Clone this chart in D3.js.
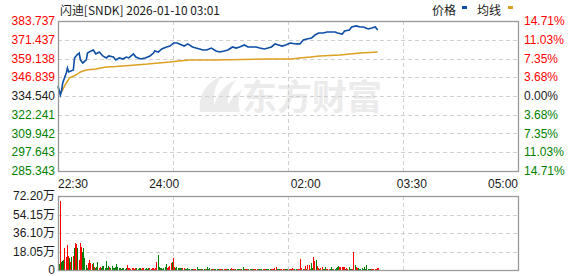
<!DOCTYPE html>
<html>
<head>
<meta charset="utf-8" />
<title>闪迪 SNDK</title>
<style>
body { margin: 0; background: #fff; }
svg text { font-family: Arial, "Liberation Sans", "Noto Sans CJK SC", sans-serif; font-size: 12px; }
</style>
</head>
<body>
<div id="chart"></div>
<script src="https://d3js.org/d3.v7.min.js"></script>
<script>
(function(d3) {
'use strict';

// minutes after 22:30
var priceMin = [0,2,3,4,7,8,9,13,14,16,18,19,21,24,25,28,30,32,35,38,41,43,47,49,52,55,58,60,64,66,
  70,74,78,81,82,85,88,92,95,98,101,103,107,110,114,117,120,123,126,130,134,137,141,144,148,151,154,158,161,165,
  168,171,175,178,181,184,187,190,193,197,202,205,208,211,215,218,221,225,228,232,235,237,241,243,247,249,253,256,259,263,
  266,269,271];
var price = [341.1,335.2,337.8,343.1,349.6,352.9,350.3,351.6,359.5,361.4,362.7,358.2,356.2,358.2,362.7,364.1,364.7,362.1,363.4,360.8,
  359.5,360.8,360.1,358.2,359.5,358.8,360.1,359.5,362.1,360.1,358.8,359.5,360.8,362.7,364.1,363.4,365.4,366.7,367.3,369.3,
  369.3,368.7,367.3,368.7,366.7,366.0,365.4,364.7,364.7,366.0,364.1,363.4,364.1,364.7,366.7,366.0,366.7,368.0,366.7,366.7,
  366.7,366.0,365.4,366.0,366.7,368.7,368.0,367.3,368.0,369.3,368.7,368.7,371.3,371.9,372.6,374.6,375.9,375.9,376.5,376.5,
  376.5,375.9,375.2,377.2,377.8,379.8,380.5,379.8,379.8,378.5,379.1,379.8,377.8];

var avgMin = [0,2,3,7,10,15,19,24,32,41,49,66,76,85,95,102,112,132,178,198,205,214,222,239,256,271];
var avgPrice = [339.5,337.0,337.2,343.1,346.4,348.3,350.3,351.6,352.3,353.6,353.9,354.9,355.5,356.2,356.8,357.5,358.2,358.2,358.8,358.8,
  359.5,360.1,360.8,361.4,362.7,363.4];

// volume per minute, in 万
var vol = [6,67,8,9,10,21,13,24,13.6,11.7,8,13,13.6,21,26.6,25,21,10,26.6,22.7,
  17.9,21,11.4,5,2,6.5,9.8,6.5,5.8,6.5,3.3,2,3.3,7.5,2,3.3,1.6,4.2,3.9,2,
  8.8,2,4.2,3.3,1.5,4,2,1.5,3,5.6,3.3,1.5,1.5,1.2,1.5,1.5,1.2,1.5,4.9,1.5,
  1.5,1.2,1.5,1.5,1.2,2,1.5,1.2,1.5,1.5,1.2,1.5,1.5,1.2,1.5,1.2,1.5,1.5,1.2,1.5,
  1.5,1.2,1.5,8,14.6,3,1.5,1.5,1.2,1.5,2.5,5.8,2,2.5,3.5,6.5,8,11.4,3,2,
  3,1.5,2,2,1.5,1.5,2,1,1,1.5,1,1,1.2,1,1,1.2,1,2.5,1.2,1,
  1.2,1,1,1.2,1,1,2.9,1,1.5,1,1,1.2,1,1,1.2,1,1,1.2,1,1,
  1,1.2,1,1,1.2,1,1.5,1.2,1.2,1,1,1.2,1,1,1.2,1,2.9,1,1.2,1,
  1,1.2,1,1,1.2,1,1,1.2,1,1,1.2,1,1,1.2,1,1,1.2,1,1,1.2,
  1,1,1.2,1.5,2.9,1,1,1.2,1,1,1.2,1,1,1.2,1,1,1.2,1,1.5,1,
  1.2,1,1,1.2,1,10.7,2,1,1.2,4,1.2,4.9,4.9,1.2,6.8,2,12.7,8.8,9.8,4.2,
  1.5,1.2,1.5,3,1.2,1,2.9,1.2,1,1.2,1,2.9,1.2,1,1.2,1.5,3,4.2,3.3,2.9,
  2.9,2.9,2.5,1.2,1.5,1.2,2.9,1.2,1.2,1,17.6,4.9,3,1.5,1.5,1,1.2,1.5,1.2,2.9,
  1.2,4.9,1,1,1.2,1,1,1.2,1,1,1.5,2];
var volUp = [0,1,0,0,0,1,1,1,1,0,1,0,1,0,1,1,0,1,1,1,
  0,0,0,0,0,1,1,1,1,0,1,0,0,0,1,1,0,0,0,0,
  0,0,0,1,0,0,0,0,0,0,0,0,0,0,0,0,0,0,1,1,
  1,1,1,1,1,1,0,0,0,0,1,1,1,0,0,0,0,1,1,1,
  1,1,1,1,0,0,0,0,0,0,0,0,1,1,1,1,0,1,1,0,
  0,0,0,0,0,1,1,0,0,0,0,0,0,0,1,1,1,0,0,0,
  0,1,0,0,1,0,0,0,0,0,1,1,0,0,0,0,1,1,1,0,
  1,1,1,0,0,0,1,1,1,1,0,0,0,0,1,0,0,0,1,1,
  1,0,0,0,0,1,1,1,1,0,0,0,0,1,1,1,0,0,0,0,
  1,1,1,1,1,0,0,0,1,1,1,1,0,0,0,1,1,1,1,1,
  0,0,1,1,1,1,1,0,1,1,0,1,1,0,0,0,1,1,0,1,
  1,0,1,1,0,0,0,1,1,1,0,0,0,1,0,0,0,0,1,1,
  1,1,1,0,1,1,0,0,0,1,1,0,1,1,0,0,0,0,0,0,
  0,0,0,0,0,1,1,1,1,1,1,1];

var priceTicks = [383.737,371.437,359.138,346.839,334.540,322.241,309.942,297.643,285.343];
var pctLabels = ['14.71%','11.03%','7.35%','3.68%','0.00%','3.68%','7.35%','11.03%','14.71%'];
var volTicks = [72.20,54.15,36.10,18.05,0];
var volLabels = ['72.20万','54.15万','36.10万','18.05万','0'];
var timeTicks = [0,90,210,300,390];
var timeLabels = ['22:30','24:00','02:00','03:30','05:00'];

var width = 578, height = 276;
var L = 58, R = 518, T = 21, B = 171, VT = 196, VB = 270;
var red = '#f00', green = '#008000', grid = '#d0d0d0', frame = '#999';

var svg = d3.select('#chart').append('svg')
  .attr('width', width).attr('height', height);

var x = d3.scaleLinear().domain([0, 390]).range([L, R]);
var y = d3.scaleLinear().domain([285.343, 383.737]).range([B, T]);
var yv = d3.scaleLinear().domain([0, 72.2]).range([VB, VT]);

// watermark
var wm = svg.append('g').attr('fill', '#ebebeb');
wm.append('path')
  .attr('d', 'M200,112 C198,96 206,82 222,76 C214,86 212,98 216,112 Z M214,112 C214,98 222,86 236,80 C228,90 226,100 230,112 Z M226,112 C228,102 234,94 242,90 C238,98 238,106 240,112 Z');
wm.append('text')
  .attr('x', 242).attr('y', 110)
  .style('font-family', '"Noto Sans CJK SC", sans-serif')
  .style('font-size', '35px').style('font-weight', 'bold')
  .text('东方财富');

function gridFor(top, bottom, ys) {
  var g = svg.append('g').attr('stroke', grid).attr('stroke-dasharray', '4,3').attr('shape-rendering', 'crispEdges');
  ys.forEach(function(v) {
    g.append('line').attr('x1', L).attr('x2', R).attr('y1', Math.round(v) + 0.5).attr('y2', Math.round(v) + 0.5);
  });
  [1, 2, 3].forEach(function(k) {
    var xx = Math.round(L + (R - L) * k / 4) + 0.5;
    g.append('line').attr('x1', xx).attr('x2', xx).attr('y1', top).attr('y2', bottom);
  });
}
gridFor(T, B, priceTicks.slice(1, -1).map(y));
gridFor(VT, VB, volTicks.slice(1, -1).map(yv));

// volume bars
svg.append('g').attr('shape-rendering', 'crispEdges')
  .selectAll('rect').data(vol).enter().append('rect')
  .attr('x', function(d, i) { return Math.floor(x(i)) + 1; })
  .attr('width', 1)
  .attr('y', function(d) { return Math.round(yv(d)); })
  .attr('height', function(d) { return VB - Math.round(yv(d)); })
  .attr('fill', function(d, i) { return volUp[i] ? red : green; });

// lines
var avgLine = d3.line().x(function(d, i) { return x(avgMin[i]); }).y(function(d) { return y(d); });
svg.append('path').datum(avgPrice).attr('d', avgLine)
  .attr('fill', 'none').attr('stroke', '#dca020').attr('stroke-width', 1.5);
var priceLine = d3.line().x(function(d, i) { return x(priceMin[i]); }).y(function(d) { return y(d); });
svg.append('path').datum(price).attr('d', priceLine)
  .attr('fill', 'none').attr('stroke', '#0d4ea6').attr('stroke-width', 1.6);

// frames
[[T, B], [VT, VB]].forEach(function(p) {
  svg.append('rect').attr('x', L + 0.5).attr('y', p[0] + 0.5)
    .attr('width', R - L).attr('height', p[1] - p[0])
    .attr('fill', 'none').attr('stroke', frame).attr('stroke-width', 1.3);
});

// left price labels
svg.append('g').selectAll('text').data(priceTicks).enter().append('text')
  .attr('x', 55).attr('y', function(d) { return y(d); }).attr('dy', '0.35em')
  .attr('text-anchor', 'end')
  .attr('fill', function(d, i) { return i < 4 ? red : (i === 4 ? '#1a1a1a' : green); })
  .text(function(d) { return d.toFixed(3); });

// right percent labels
svg.append('g').selectAll('text').data(pctLabels).enter().append('text')
  .attr('x', 524).attr('y', function(d, i) { return y(priceTicks[i]); }).attr('dy', '0.35em')
  .attr('fill', function(d, i) { return i < 4 ? red : (i === 4 ? '#1a1a1a' : green); })
  .text(function(d) { return d; });

// volume labels
svg.append('g').selectAll('text').data(volLabels).enter().append('text')
  .attr('x', 55).attr('y', function(d, i) { return yv(volTicks[i]); }).attr('dy', '0.35em')
  .attr('text-anchor', 'end').attr('fill', '#1a1a1a')
  .text(function(d) { return d; });

// time labels
svg.append('g').selectAll('text').data(timeLabels).enter().append('text')
  .attr('x', function(d, i) { return x(timeTicks[i]); }).attr('y', 188)
  .attr('text-anchor', function(d, i) { return i === 0 ? 'start' : (i === 4 ? 'end' : 'middle'); })
  .attr('fill', '#1a1a1a')
  .text(function(d) { return d; });

// title and legend
svg.append('text').attr('x', 60).attr('y', 15).attr('fill', '#1a1a1a')
  .attr('textLength', 160).attr('lengthAdjust', 'spacingAndGlyphs')
  .style('font-family', '"Noto Sans CJK SC", sans-serif')
  .text('闪迪[SNDK] 2026-01-10 03:01');
svg.append('text').attr('x', 432).attr('y', 15).attr('fill', '#1a1a1a')
  .style('font-family', '"Noto Sans CJK SC", sans-serif').text('价格');
svg.append('rect').attr('x', 462).attr('y', 6).attr('width', 5).attr('height', 3).attr('fill', '#0d4ea6');
svg.append('text').attr('x', 477).attr('y', 15).attr('fill', '#1a1a1a')
  .style('font-family', '"Noto Sans CJK SC", sans-serif').text('均线');
svg.append('rect').attr('x', 508).attr('y', 6).attr('width', 5).attr('height', 3).attr('fill', '#dca020');

})(window.d3);
</script>
</body>
</html>
